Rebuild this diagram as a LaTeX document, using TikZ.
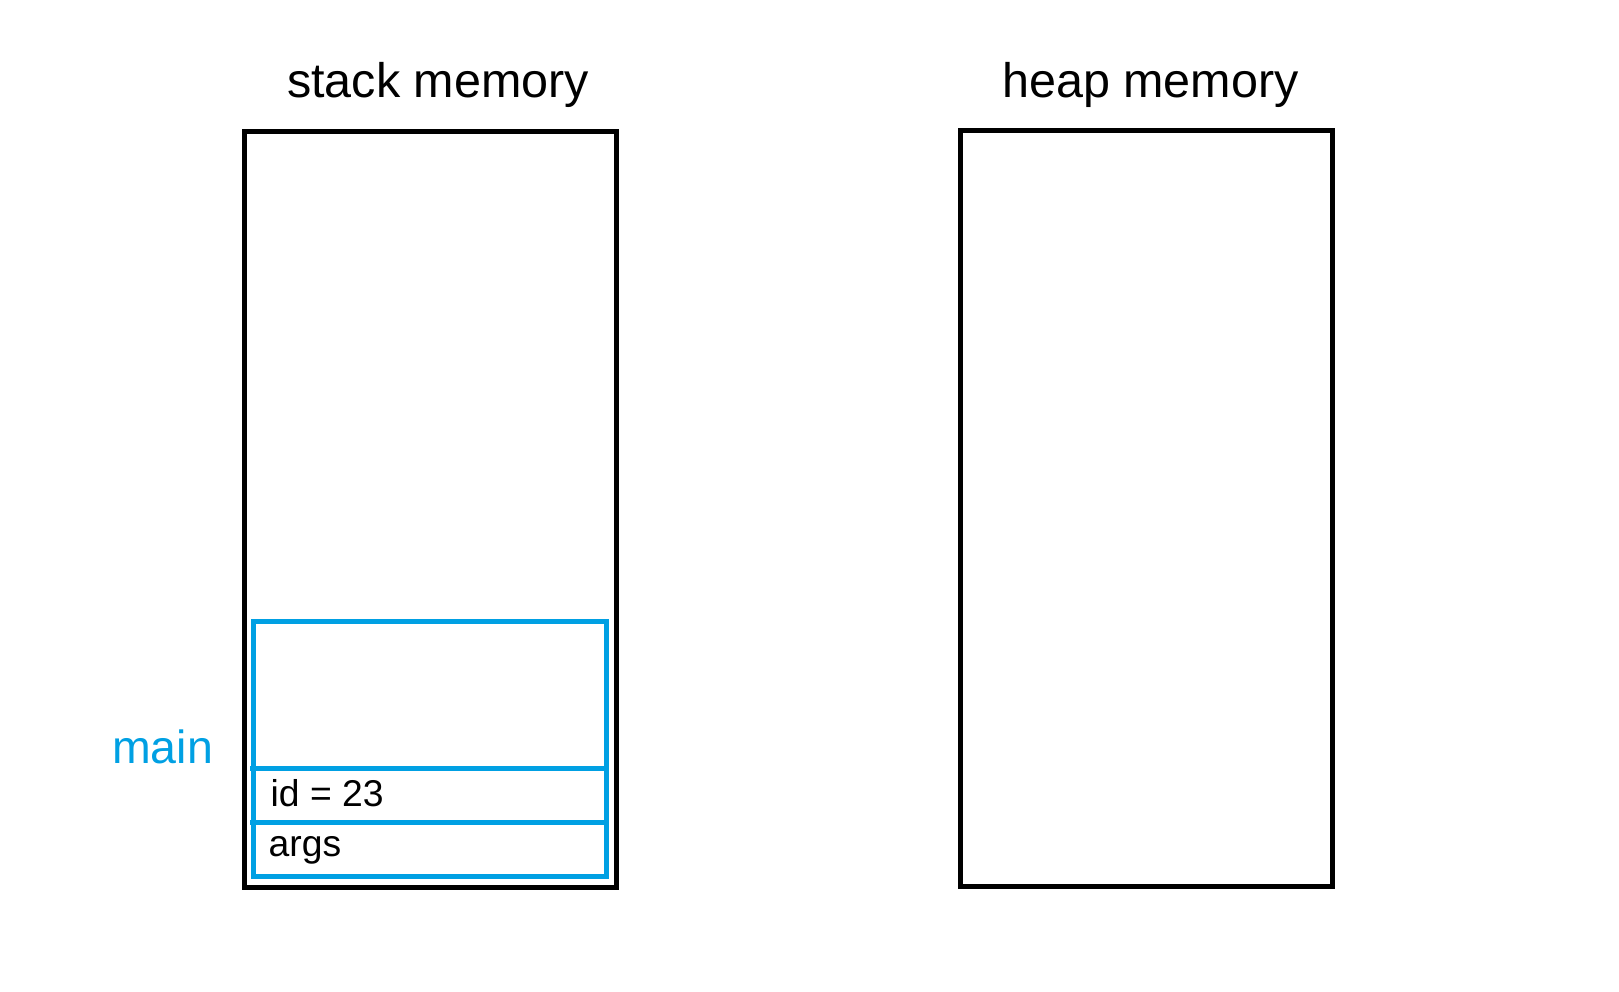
\documentclass[tikz,border=0pt]{standalone}
\usepackage{fontspec}
\setmainfont{Liberation Sans}
\definecolor{frameblue}{RGB}{0,160,227}
\begin{document}
\begin{tikzpicture}[x=1pt,y=1pt,
  membox/.style={draw=black, line width=5pt, inner sep=0pt, outer sep=0pt, anchor=north west},
  framebox/.style={draw=frameblue, line width=5pt, inner sep=0pt, outer sep=0pt, anchor=north west},
  divider/.style={draw=frameblue, line width=5pt},
  title/.style={anchor=base west, inner sep=0pt, font=\fontsize{48.5}{58}\selectfont},
  cell/.style={anchor=base west, inner sep=0pt, font=\fontsize{37.3}{45}\selectfont},
  framelabel/.style={anchor=base west, inner sep=0pt, text=frameblue, font=\fontsize{46.5}{56}\selectfont}]
\useasboundingbox (0,0) rectangle (1619,-991);
% titles
\node[title] (stacktitle) at (287,-97) {stack memory};
\node[title] (heaptitle) at (1002,-97) {heap memory};
% memory boxes
\node[membox, minimum width=372pt, minimum height=756pt] (stack) at (244.5,-131.5) {};
\node[membox, minimum width=372.5pt, minimum height=756pt] (heap) at (960,-130.5) {};
% main frame
\node[framebox, minimum width=353pt, minimum height=255pt] (frame) at (253.5,-621.5) {};
\coordinate (d1) at (250,-768.5);
\coordinate (d2) at (250,-822.5);
\draw[divider] (d1) -- (frame.east |- d1);
\draw[divider] (d2) -- (frame.east |- d2);
% labels
\node[framelabel] (mainlabel) at (112,-763) {main};
\node[cell] (idcell) at (270.5,-806) {id = 23};
\node[cell] (argscell) at (268.5,-856) {args};
\end{tikzpicture}
\end{document}
